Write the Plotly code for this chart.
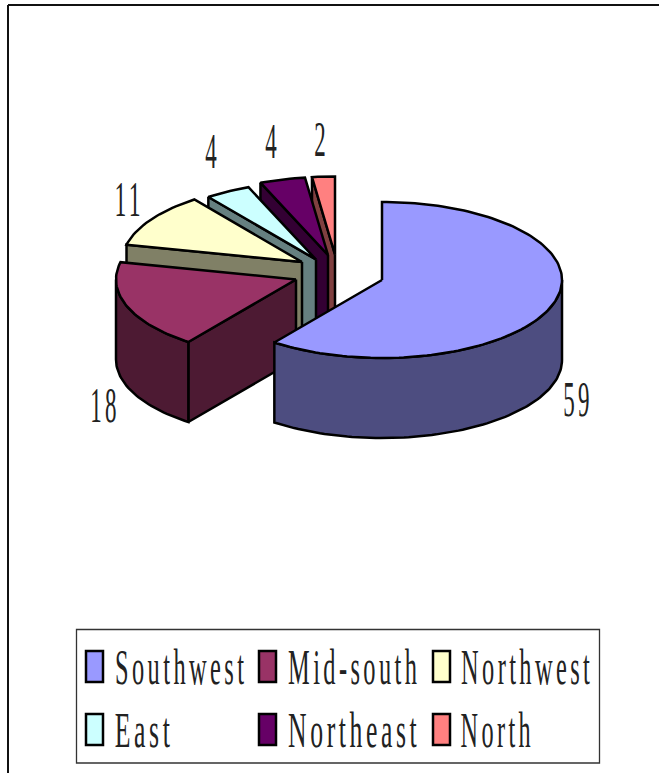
import math
import plotly.graph_objects as go

# Data
categories = ["Southwest", "Mid-south", "Northwest", "East", "Northeast", "North"]
values = [59, 18, 11, 4, 4, 2]

# Styles
top_colors = ["#9999FF", "#993366", "#FFFFCC", "#CCFFFF", "#660066", "#FF8080"]
side_colors = ["#4D4D80", "#4D1A33", "#808066", "#668080", "#330033", "#804040"]

# Layout of the exploded 3-D pie (pixel space of the hidden axes)
RX, RY, DEPTH = 180, 78, 80
slice_centers = [(382, 280), (296, 279.5), (302, 262), (316, 259.5), (328, 255), (335, 254.5)]
label_centers = [(576, 399), (103, 405), (127, 199), (210, 151), (270, 141), (319, 139)]
legend_columns = [(86, 113), (259, 286), (433, 459)]
legend_rows = [(651, 667), (714, 730)]
CHAR_W = 14.7
TEXT_SIZE = 50
LW = 2.5


def pt(c, deg, dz=0):
    a = math.radians(deg)
    return (c[0] + RX * math.sin(a), c[1] - RY * math.cos(a) + dz)


def arc(c, a0, a1, dz=0, step=1.5):
    n = max(2, int(abs(a1 - a0) / step) + 1)
    return [pt(c, a0 + (a1 - a0) * k / (n - 1), dz) for k in range(n)]


def poly(fig, pts, color, name):
    xs = [p[0] for p in pts] + [pts[0][0]]
    ys = [p[1] for p in pts] + [pts[0][1]]
    fig.add_trace(go.Scatter(
        x=xs, y=ys, mode="lines", fill="toself", fillcolor=color,
        line=dict(color="#000000", width=LW), name=name,
        hoverinfo="name", showlegend=False,
    ))


fig = go.Figure()

total = sum(values)
bounds = []
acc = 0
for v in values:
    bounds.append((acc / total * 360, (acc + v) / total * 360))
    acc += v

# Painter's order: back slices first, the big front slice last
for i in reversed(range(len(values))):
    c = slice_centers[i]
    a0, a1 = bounds[i]
    name = f"{categories[i]}: {values[i]}"
    bottom = (c[0], c[1] + DEPTH)
    if math.sin(math.radians(a0)) < 0:
        poly(fig, [c, pt(c, a0), pt(c, a0, DEPTH), bottom], side_colors[i], name)
    w0, w1 = max(a0, 90), min(a1, 270)
    if w0 < w1:
        poly(fig, arc(c, w0, w1) + arc(c, w1, w0, DEPTH), side_colors[i], name)
    poly(fig, [c] + arc(c, a0, a1), top_colors[i], name)

shapes = [
    dict(type="line", x0=8, x1=8, y0=5, y1=773, line=dict(color="#111111", width=2)),
    dict(type="line", x0=8, x1=659, y0=5, y1=5, line=dict(color="#111111", width=2)),
    dict(type="rect", x0=76.5, x1=599.5, y0=629.5, y1=763,
         line=dict(color="#333333", width=1.3), fillcolor="#FFFFFF"),
]

annotations = []
for v, (lx, ly) in zip(values, label_centers):
    annotations.append(dict(x=lx, y=ly, text=str(v), showarrow=False,
                            xanchor="center", yanchor="middle",
                            font=dict(family="Liberation Serif", size=TEXT_SIZE, color="#222222")))

for k, cat in enumerate(categories):
    col = legend_columns[k % 3]
    top, mid = legend_rows[k // 3]
    shapes.append(dict(type="rect", x0=col[0], x1=col[0] + 17, y0=top, y1=top + 31,
                       fillcolor=top_colors[k], line=dict(color="#000000", width=2.5)))
    annotations.append(dict(x=col[1] + len(cat) * CHAR_W / 2, y=mid, text=cat, showarrow=False,
                            xanchor="center", yanchor="middle",
                            font=dict(family="Liberation Serif", size=TEXT_SIZE, color="#222222")))

fig.update_layout(
    width=659, height=773, autosize=False,
    margin=dict(l=0, r=0, t=0, b=0),
    paper_bgcolor="#FFFFFF", plot_bgcolor="#FFFFFF",
    xaxis=dict(range=[0, 659], visible=False, fixedrange=True),
    yaxis=dict(range=[773, 0], visible=False, fixedrange=True),
    shapes=shapes, annotations=annotations, showlegend=False,
)

# The reference face is a tall, narrow, fixed-pitch serif: squeeze each real text to its pitch.
post = """
var s=document.createElement('style');
s.textContent='html,body{margin:0;padding:0;overflow:hidden}';
document.head.appendChild(s);
document.querySelectorAll('.annotation-text').forEach(function(t){
  t.style.letterSpacing='7px';
  var w=t.getBBox().width, n=t.textContent.length;
  t.style.transformBox='fill-box';
  t.style.transformOrigin='center';
  t.style.transform='translateX(2px) scaleX('+(n*%s/w)+')';
});
""" % CHAR_W

fig.write_html("out.html", post_script=post, config={"displayModeBar": False})
